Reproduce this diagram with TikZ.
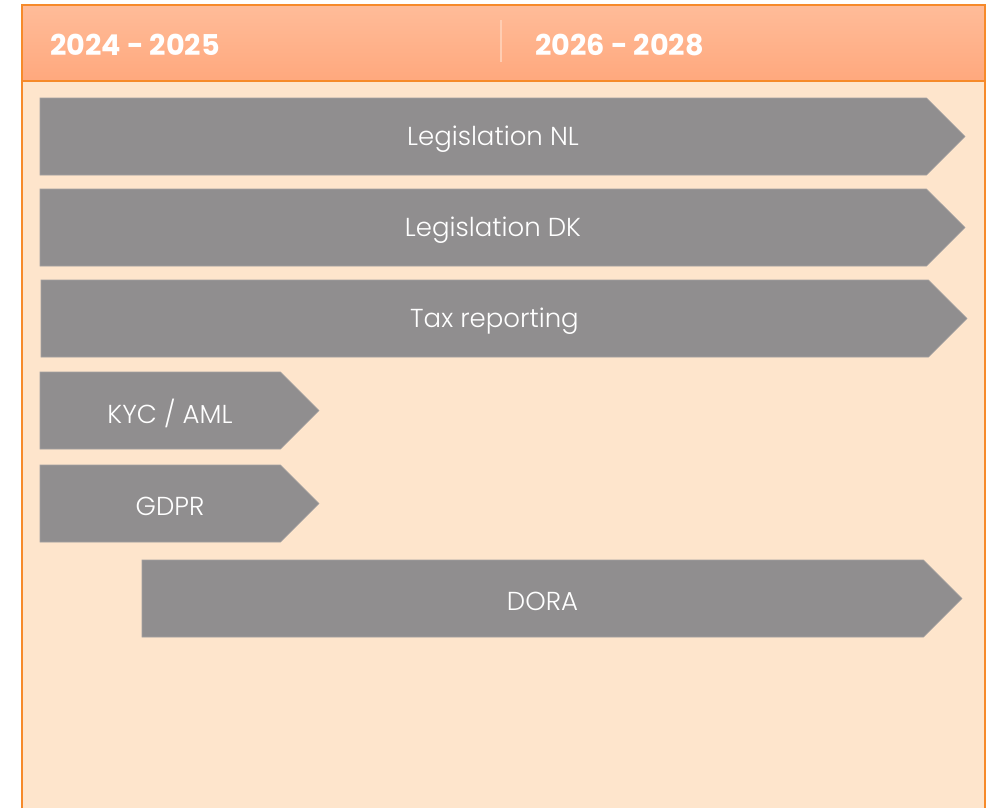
\documentclass[tikz,border=0pt]{standalone}
\usepackage{fontspec}
\setmainfont{Poppins}
\newfontfamily\barfont{Poppins Light}
\usetikzlibrary{positioning,shapes.symbols,calc}

\definecolor{frameorange}{HTML}{F68A2A}
\definecolor{headtop}{HTML}{FFBC99}
\definecolor{headbot}{HTML}{FFA87D}
\definecolor{bodyfill}{HTML}{FEE5CC}
\definecolor{bargray}{HTML}{908E8F}
\definecolor{divline}{HTML}{FFCDB2}

\begin{document}
\begin{tikzpicture}[x=0.75pt,y=-0.75pt,
    bar/.style={signal,signal to=east,signal from=nothing,signal pointer angle=90,
        fill=bargray,draw=bargray!85!white,line width=0.5pt,inner sep=0pt,
        minimum height=57.75pt},
    bartext/.style={text=white,font=\barfont\fontsize{19.5}{22}\selectfont,inner sep=0pt},
    yeartext/.style={text=white,font=\fontsize{21.5}{26}\bfseries\selectfont,inner sep=0pt,anchor=west}]

    \useasboundingbox (0,0) rectangle (990,808);

    % background and header
    \fill[bodyfill] (22,81) rectangle (985,808);
    \shade[top color=headtop,bottom color=headbot] (22,5) rectangle (985,81);
    \draw[frameorange,line width=1.5pt] (22,808) -- (22,5) -- (985,5) -- (985,808);
    \draw[frameorange,line width=1.2pt] (22,81) -- (985,81);
    \draw[divline,line width=2.2pt] (501,20) -- (501,62);

    \node[yeartext](y1) at (50,45) {2024 - 2025};
    \node[yeartext](y2) at (535,45) {2026 - 2028};

    % bars (the pointer sits outside the centre, so centres move left by half of it)
    \node[bar,minimum width=693.75pt](nl) at (483.25,136.5) {};
    \node[bar,minimum width=693.75pt](dk) at (483.25,227.5) {};
    \node[bar,minimum width=694.5pt](tax) at (484.75,318.5) {};
    \node[bar,minimum width=209.25pt](kyc) at (160.25,410.5) {};
    \node[bar,minimum width=209.25pt](gdpr) at (160.25,503.5) {};
    \node[bar,minimum width=615pt](dora) at (532.75,598.5) {};

    \node[bartext](nl-t) at ([xshift=7.3pt,yshift=-2.2pt]nl.center) {Legislation NL};
    \node[bartext](dk-t) at ([xshift=7.3pt,yshift=-2.2pt]dk.center) {Legislation DK};
    \node[bartext](tax-t) at ([xshift=7.3pt,yshift=-2.2pt]tax.center) {Tax reporting};
    \node[bartext](kyc-t) at ([xshift=7.3pt,yshift=-2.2pt]kyc.center) {KYC / AML};
    \node[bartext](gdpr-t) at ([xshift=7.3pt,yshift=-2.2pt]gdpr.center) {GDPR};
    \node[bartext](dora-t) at ([xshift=7.3pt,yshift=-2.2pt]dora.center) {DORA};

\end{tikzpicture}
\end{document}
